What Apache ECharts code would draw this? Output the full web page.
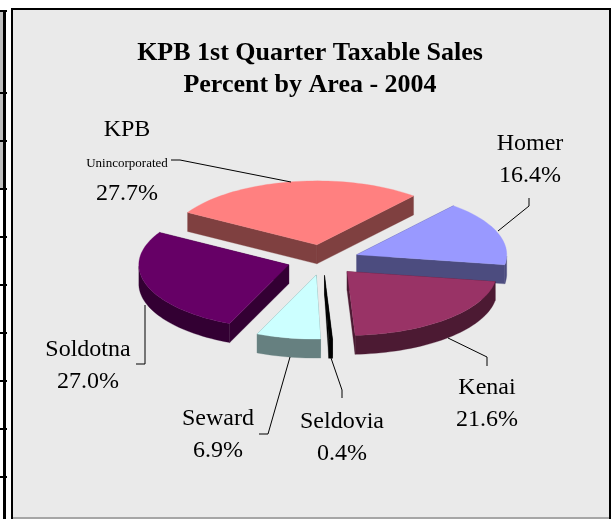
<!DOCTYPE html>
<html>
<head>
<meta charset="utf-8">
<script src="https://cdn.jsdelivr.net/npm/echarts@6/dist/echarts.min.js"></script>
<style>html,body{margin:0;padding:0;background:#fff}#c{width:615px;height:519px}</style>
</head>
<body>
<div id="c"></div>
<script>
// ---- data (clockwise from the pie's start angle) ----
const categories = ['KPB', 'Homer', 'Kenai', 'Seldovia', 'Seward', 'Soldotna'];
const percents   = [27.7, 16.4, 21.6, 0.4, 6.9, 27.0];
const titleLines = ['KPB 1st Quarter Taxable Sales', 'Percent by Area - 2004'];
const topColors  = ['#FF8080', '#9999FF', '#993366', '#000000', '#CCFFFF', '#660066'];
const sideColors = ['#7F4040', '#4C4C7F', '#4C1A33', '#000000', '#668080', '#330033'];
const subLabels  = ['Unincorporated', '', '', '', '', ''];
const paintOrder = [0, 1, 5, 2, 3, 4];

// ---- layout ----
const CX = 323, CY = 260, RX = 150, RY = 64, DEPTH = 19, EXPLODE = 36, START = 300.4;
const labelPos = [[127, 130], [530, 143.5], [487, 388], [342, 421.5], [218, 418.5], [88, 349.5]];
const labelGap = 32;
const leaders = [
  [[171, 160], [180, 160], [291, 182]],
  [[529, 198], [529, 206], [498, 231]],
  [[448, 338], [487, 357], [487, 366]],
  [[331, 358], [342, 390], [342, 398]],
  [[290, 357], [268, 434], [259, 434]],
  [[145, 305], [145, 364], [136, 364]]
];

const total = percents.reduce((a, b) => a + b, 0);
const rad = d => d * Math.PI / 180;
function sliceAngles(i) {
  let a = START;
  for (let k = 0; k < i; k++) a += percents[k] / total * 360;
  return [a, a + percents[i] / total * 360];
}

function renderSlice(params, api) {
  const i = params.dataIndex;
  const span = api.value(1) / total * 360;
  const a0 = sliceAngles(i)[0], a1 = a0 + span, mid = (a0 + a1) / 2;
  const ox = CX + EXPLODE * Math.sin(rad(mid));
  const oy = CY - EXPLODE * (RY / RX) * Math.cos(rad(mid));
  const pt = a => [ox + RX * Math.sin(rad(a)), oy - RY * Math.cos(rad(a))];
  const down = p => [p[0], p[1] + DEPTH];
  const steps = Math.max(2, Math.ceil(span / 2));
  const arc = [];
  for (let s = 0; s <= steps; s++) arc.push(pt(a0 + span * s / steps));

  const order = paintOrder.indexOf(i) * 10;
  const apex = [ox, oy];
  const poly = (points, fill, z) => ({
    type: 'polygon', z2: order + z, silent: true,
    shape: { points }, style: { fill, stroke: fill, lineWidth: 0.3 }
  });
  // cut walls, back one first
  const walls = [arc[0], arc[arc.length - 1]]
    .map(p => [apex, p, down(p), down(apex)])
    .sort((w, v) => (w[1][1] - v[1][1]));
  const children = walls.map((w, n) => poly(w, sideColors[i], n));
  // rim: only the part of the arc facing the viewer (90..270 clockwise from top)
  const front = [];
  for (let s = 0; s <= steps; s++) {
    const t = a0 + span * s / steps, m = ((t % 360) + 360) % 360;
    if (m >= 90 && m <= 270) front.push(pt(t));
  }
  if (front.length > 1) {
    children.push(poly(front.concat(front.slice().reverse().map(down)), sideColors[i], 3));
  }
  children.push(poly([apex].concat(arc), topColors[i], 4));
  return { type: 'group', children };
}

// ---- frame and labels ----
const graphics = [];
const rect = (x, y, w, h, fill, z) => graphics.push({
  type: 'rect', silent: true, z, shape: { x, y, width: w, height: h }, style: { fill }
});
rect(0, 11, 3, 178, '#BFBFBF', 0);
rect(3, 10, 3, 509, '#000000', 1);
rect(0, 10, 7, 2, '#000000', 1);
[92, 140, 188, 236, 284, 332, 380, 428, 476].forEach(y => rect(0, y, 7, 2, '#000000', 1));
rect(11, 8, 600, 511, '#000000', 0);
rect(13, 10, 596, 509, '#EAEAEA', 1);
rect(13, 517, 596, 2, '#A6A6A6', 2);

leaders.forEach(points => graphics.push({
  type: 'polyline', silent: true, z: 8, shape: { points },
  style: { stroke: '#000000', lineWidth: 1, fill: null }
}));
const addText = (text, x, y, size) => graphics.push({
  type: 'text', silent: true, z: 9,
  style: { text, x, y, fill: '#000000', align: 'center', verticalAlign: 'middle',
           font: size + 'px "Liberation Serif"' }
});
categories.forEach((name, i) => {
  const p = labelPos[i], pct = percents[i].toFixed(1) + '%';
  addText(name, p[0], p[1], 24);
  if (subLabels[i]) {
    addText(subLabels[i], p[0], p[1] + 33.5, 13);
    addText(pct, p[0], p[1] + 64, 24);
  } else {
    addText(pct, p[0], p[1] + labelGap, 24);
  }
});
titleLines.forEach((t, i) => graphics.push({
  type: 'text', silent: true, z: 9,
  style: { text: t, x: 310, y: 53 + i * 32, fill: '#000000', align: 'center', verticalAlign: 'middle',
           font: 'bold 26px "Liberation Serif"' }
}));

const chart = echarts.init(document.getElementById('c'), null, { renderer: 'canvas' });
chart.setOption({
  animation: false,
  backgroundColor: '#FFFFFF',
  graphic: graphics,
  series: [{
    type: 'custom',
    coordinateSystem: 'none',
    silent: true,
    z: 5,
    renderItem: renderSlice,
    data: categories.map((c, i) => [i, percents[i]])
  }]
});
</script>
</body>
</html>
